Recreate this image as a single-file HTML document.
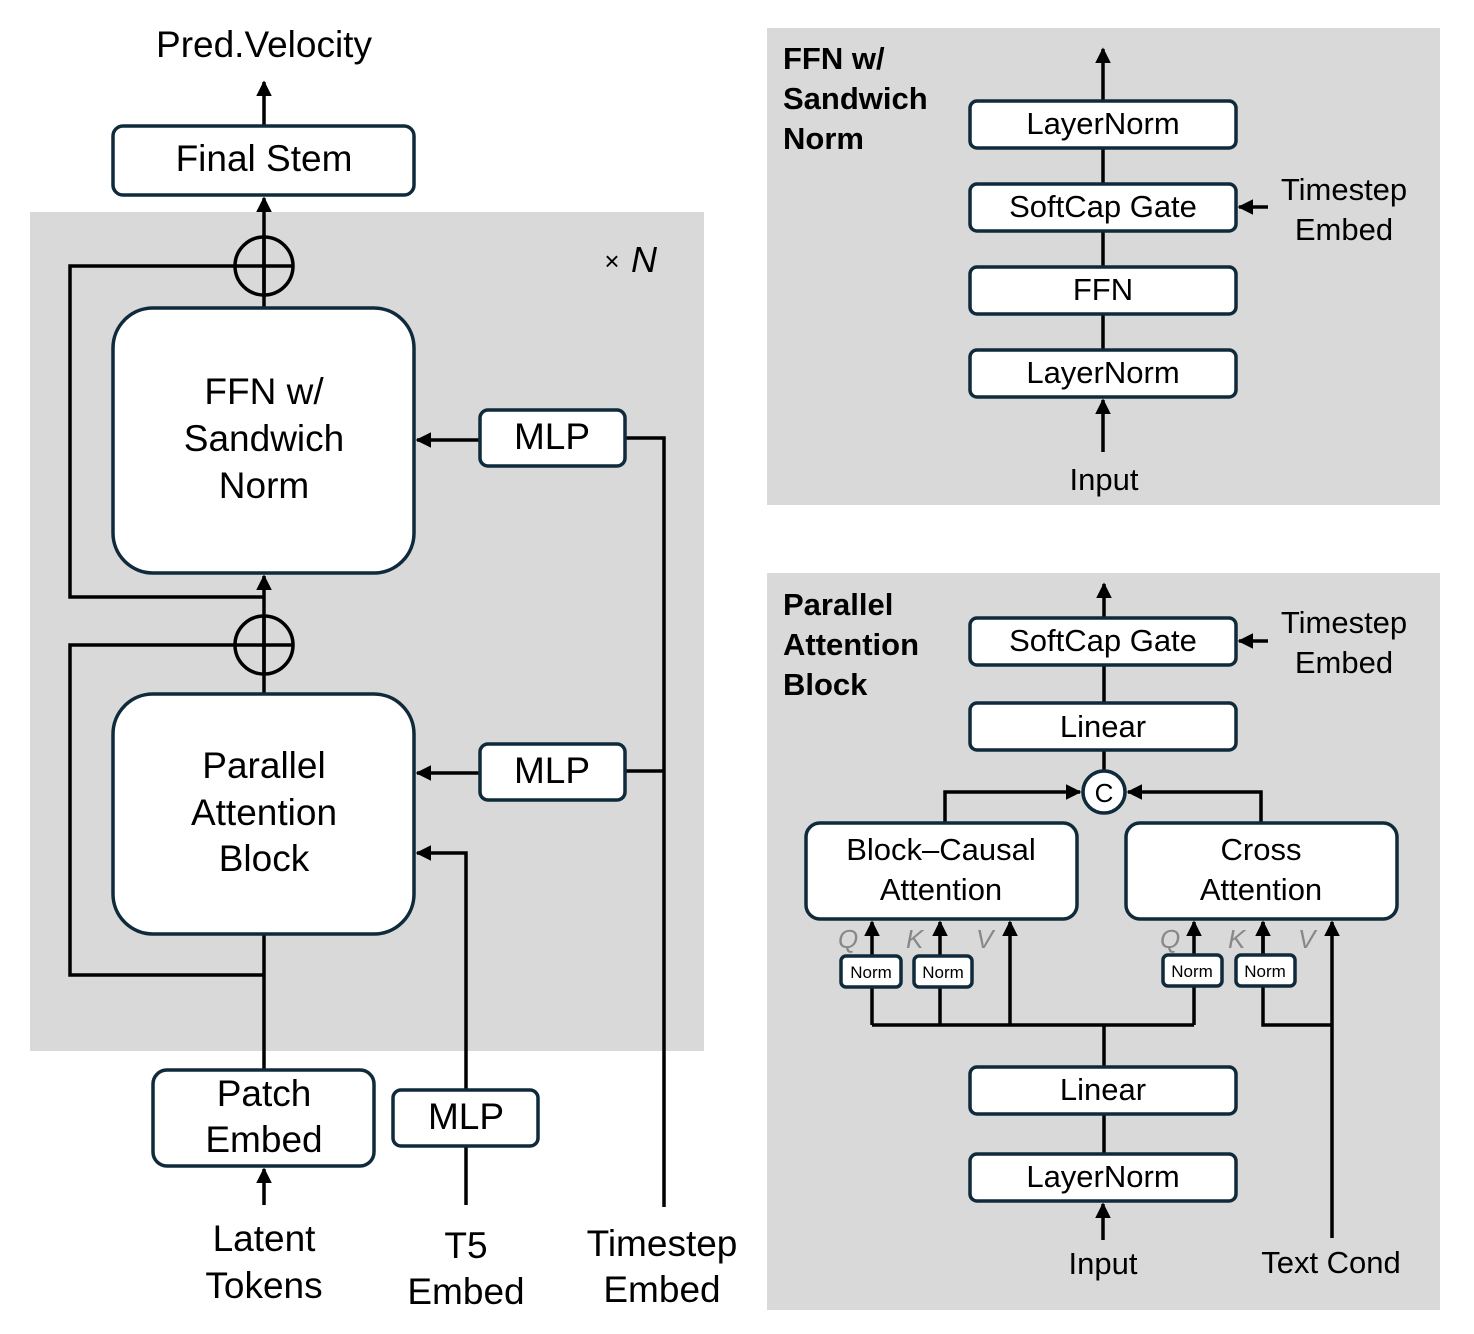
<!DOCTYPE html>
<html><head><meta charset="utf-8"><style>html,body{margin:0;padding:0;background:#fff}svg{display:block}text{font-family:"Liberation Sans","DejaVu Sans",sans-serif;fill:#000}</style></head><body>
<svg width="1474" height="1334" viewBox="0 0 1474 1334" xmlns="http://www.w3.org/2000/svg">
<defs><marker id="a" viewBox="0 0 10 10" refX="9" refY="5" markerWidth="4.5" markerHeight="4.5" orient="auto-start-reverse" markerUnits="strokeWidth"><path d="M0,0 L10,5 L0,10 z" fill="#000"/></marker></defs>
<rect x="30" y="212" width="674" height="839" fill="#d9d9d9"/>
<rect x="767" y="28" width="673" height="477" fill="#d9d9d9"/>
<rect x="767" y="573" width="673" height="737" fill="#d9d9d9"/>
<g stroke="#000" stroke-width="3.5" fill="none">
<line x1="264" y1="126" x2="264" y2="82" marker-end="url(#a)"/>
<line x1="264" y1="308" x2="264" y2="198" marker-end="url(#a)"/>
<polyline points="293,266 70,266 70,597 264,597"/>
<line x1="264" y1="694" x2="264" y2="576" marker-end="url(#a)"/>
<polyline points="293,645 70,645 70,975 264,975"/>
<line x1="264" y1="1070" x2="264" y2="934"/>
<circle cx="264" cy="266" r="29"/>
<circle cx="264" cy="645" r="29"/>
<line x1="480" y1="440" x2="417" y2="440" marker-end="url(#a)"/>
<line x1="480" y1="773" x2="417" y2="773" marker-end="url(#a)"/>
<polyline points="625,438 664,438 664,1207"/>
<line x1="625" y1="771" x2="664" y2="771"/>
<polyline points="466,1090 466,853 417,853" marker-end="url(#a)"/>
<line x1="466" y1="1146" x2="466" y2="1205"/>
<line x1="264" y1="1205" x2="264" y2="1169" marker-end="url(#a)"/>
<line x1="1103" y1="101" x2="1103" y2="49" marker-end="url(#a)"/>
<line x1="1103" y1="148" x2="1103" y2="350"/>
<line x1="1103" y1="452" x2="1103" y2="400" marker-end="url(#a)"/>
<line x1="1268" y1="207" x2="1239" y2="207" marker-end="url(#a)"/>
<line x1="1104" y1="618" x2="1104" y2="584" marker-end="url(#a)"/>
<line x1="1268" y1="641" x2="1239" y2="641" marker-end="url(#a)"/>
<line x1="1104" y1="665" x2="1104" y2="771"/>
<polyline points="945,823 945,792 1080,792" marker-end="url(#a)"/>
<polyline points="1261,823 1261,792 1128,792" marker-end="url(#a)"/>
<polyline points="872,1025 1194,1025"/>
<line x1="872" y1="1025" x2="872" y2="922" marker-end="url(#a)"/>
<line x1="940" y1="1025" x2="940" y2="922" marker-end="url(#a)"/>
<line x1="1010" y1="1025" x2="1010" y2="922" marker-end="url(#a)"/>
<line x1="1194" y1="1025" x2="1194" y2="922" marker-end="url(#a)"/>
<polyline points="1263,922 1263,1025 1332,1025"/>
<line x1="1263" y1="960" x2="1263" y2="922" marker-end="url(#a)"/>
<line x1="1332" y1="1238" x2="1332" y2="922" marker-end="url(#a)"/>
<line x1="1104" y1="1025" x2="1104" y2="1154"/>
<line x1="1103" y1="1240" x2="1103" y2="1204" marker-end="url(#a)"/>
</g>
<g stroke="#000" stroke-width="3.5"><line x1="264" y1="237" x2="264" y2="295"/><line x1="264" y1="616" x2="264" y2="674"/></g>
<g fill="#fff" stroke="#0f2a3a" stroke-width="3.5">
<rect x="113" y="126" width="301" height="69" rx="10"/>
<rect x="113" y="308" width="301" height="265" rx="40"/>
<rect x="113" y="694" width="301" height="240" rx="40"/>
<rect x="480" y="410" width="145" height="56" rx="8"/>
<rect x="480" y="744" width="145" height="56" rx="8"/>
<rect x="393" y="1090" width="145" height="56" rx="8"/>
<rect x="153" y="1070" width="221" height="96" rx="14"/>
<rect x="970" y="101" width="266" height="47" rx="7"/>
<rect x="970" y="184" width="266" height="47" rx="7"/>
<rect x="970" y="267" width="266" height="47" rx="7"/>
<rect x="970" y="350" width="266" height="47" rx="7"/>
<rect x="970" y="618" width="266" height="47" rx="7"/>
<rect x="970" y="703" width="266" height="47" rx="7"/>
<rect x="806" y="823" width="271" height="96" rx="14"/>
<rect x="1126" y="823" width="271" height="96" rx="14"/>
<rect x="970" y="1067" width="266" height="47" rx="7"/>
<rect x="970" y="1154" width="266" height="47" rx="7"/>
<rect x="841" y="956" width="60" height="31" rx="5"/>
<rect x="914" y="956" width="58" height="31" rx="5"/>
<rect x="1163" y="955" width="59" height="31" rx="5"/>
<rect x="1236" y="955" width="59" height="31" rx="5"/>
<circle cx="1104" cy="792" r="21"/>
</g>
<g text-anchor="middle" font-size="37">
<text x="264" y="57">Pred.Velocity</text>
<text x="264" y="171">Final Stem</text>
<text x="264" y="404">FFN w/</text><text x="264" y="451">Sandwich</text><text x="264" y="498">Norm</text>
<text x="264" y="778">Parallel</text><text x="264" y="825">Attention</text><text x="264" y="871">Block</text>
<text x="552" y="449">MLP</text><text x="552" y="783">MLP</text><text x="466" y="1129">MLP</text>
<text x="264" y="1106">Patch</text><text x="264" y="1152">Embed</text>
<text x="264" y="1251">Latent</text><text x="264" y="1298">Tokens</text>
<text x="466" y="1258">T5</text><text x="466" y="1304">Embed</text>
<text x="662" y="1256">Timestep</text><text x="662" y="1302">Embed</text>
</g>
<text x="604" y="270" font-size="26" font-style="italic">×</text>
<text x="631" y="272" font-size="36" font-style="italic">N</text>
<g font-size="31" font-weight="bold">
<text x="783" y="69">FFN w/</text><text x="783" y="109">Sandwich</text><text x="783" y="149">Norm</text>
<text x="783" y="615">Parallel</text><text x="783" y="655">Attention</text><text x="783" y="695">Block</text>
</g>
<g text-anchor="middle" font-size="31">
<text x="1103" y="134">LayerNorm</text>
<text x="1103" y="217">SoftCap Gate</text>
<text x="1103" y="300">FFN</text>
<text x="1103" y="383">LayerNorm</text>
<text x="1104" y="490">Input</text>
<text x="1344" y="200">Timestep</text><text x="1344" y="240">Embed</text>
<text x="1103" y="651">SoftCap Gate</text>
<text x="1344" y="633">Timestep</text><text x="1344" y="673">Embed</text>
<text x="1103" y="737">Linear</text>
<text x="941" y="860">Block–Causal</text><text x="941" y="900">Attention</text>
<text x="1261" y="860">Cross</text><text x="1261" y="900">Attention</text>
<text x="1103" y="1100">Linear</text>
<text x="1103" y="1187">LayerNorm</text>
<text x="1103" y="1274">Input</text>
<text x="1331" y="1273">Text Cond</text>
<text x="1104" y="802" font-size="26">C</text>
</g>
<g text-anchor="middle" font-size="17">
<text x="871" y="978">Norm</text><text x="943" y="978">Norm</text><text x="1192" y="977">Norm</text><text x="1265" y="977">Norm</text>
</g>
<g font-size="26" font-style="italic">
<text x="838" y="948" style="fill:#888">Q</text><text x="906" y="948" style="fill:#888">K</text><text x="976" y="948" style="fill:#888">V</text>
<text x="1160" y="948" style="fill:#888">Q</text><text x="1228" y="948" style="fill:#888">K</text><text x="1298" y="948" style="fill:#888">V</text>
</g>
</svg>
</body></html>
